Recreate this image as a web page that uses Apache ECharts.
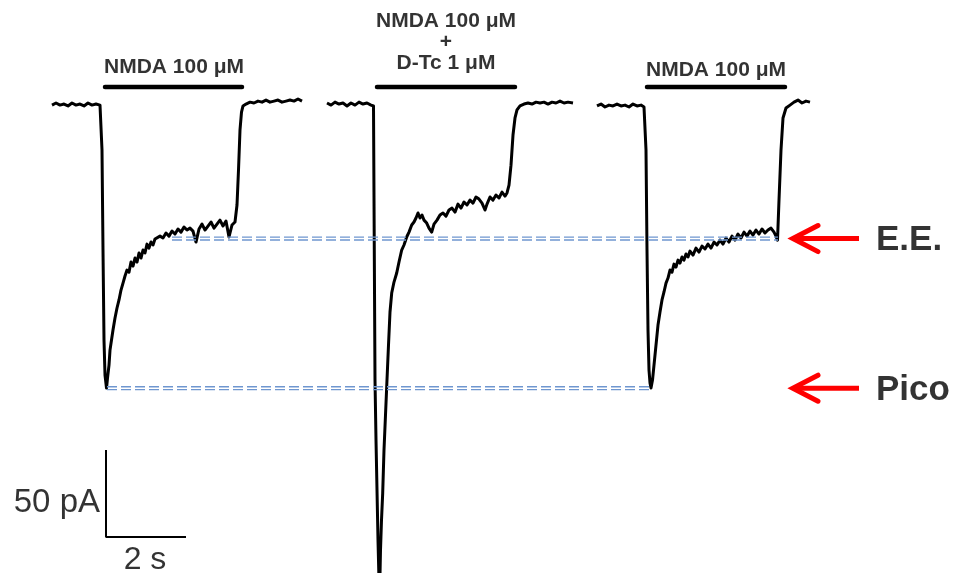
<!DOCTYPE html>
<html>
<head>
<meta charset="utf-8">
<script src="https://cdn.jsdelivr.net/npm/echarts@6/dist/echarts.min.js"></script>
<style>html,body{margin:0;padding:0;background:#fff}#c{width:956px;height:573px}</style>
</head>
<body>
<div id="c"></div>
<script>
// time in seconds, current in pA (inward current negative)
const trace1 = [
  [-1.35,-0.6],[-1.25,0.6],[-1.15,-0.6],[-1.05,0],[-0.95,-1.1],[-0.85,0.6],[-0.75,-0.6],[-0.65,0],[-0.55,-1.1],[-0.45,0.6],[-0.35,-0.6],[-0.25,0],[-0.15,-0.6],[-0.125,0],
  [-0.1,-26.4],[-0.075,-83.9],[-0.05,-135.6],[-0.025,-155.7],[0.0125,-163.2],[0.0375,-157.5],[0.075,-150.0],[0.1,-141.4],[0.1375,-135.6],[0.175,-129.9],[0.225,-123.0],[0.275,-117.2],[0.325,-112.6],[0.375,-106.9],[0.425,-102.9],[0.475,-98.8],[0.525,-95.4],[0.575,-96.6],[0.625,-90.8],[0.675,-93.1],[0.725,-88.5],[0.775,-90.8],[0.825,-85.6],[0.875,-88.5],[0.925,-83.9],[0.975,-85.6],[1.025,-80.5],[1.075,-82.8],[1.125,-79.3],[1.175,-81.0],[1.225,-77.6],[1.275,-78.7],[1.35,-75.9],[1.425,-77.0],[1.5,-74.1],[1.575,-75.9],[1.65,-73.0],[1.725,-74.7],[1.8,-71.8],[1.875,-73.6],[1.95,-70.7],[2.025,-72.4],[2.1,-71.3],[2.175,-73.0],[2.25,-79.3],[2.325,-71.8],[2.4,-69.0],[2.475,-72.4],[2.55,-70.1],[2.625,-67.8],[2.7,-71.3],[2.775,-69.0],[2.85,-66.7],[2.925,-70.1],[3.0,-67.2],[3.075,-76.4],[3.15,-69.5],[3.225,-67.8],
  [3.275,-58.0],[3.3125,-37.9],[3.35,-14.9],[3.3875,-4.6],[3.425,-1.1],[3.5,0],[3.6,1.1],[3.7,0.6],[3.8,1.7],[3.9,1.1],[4.0,2.3],[4.1,1.1],[4.2,1.7],[4.3,2.3],[4.4,1.1],[4.5,1.7],[4.6,2.3],[4.7,1.7],[4.8,2.9],[4.9,1.7]
];
const trace2 = [
  [5.525,0.6],[5.625,-0.6],[5.725,1.1],[5.825,0],[5.925,0.6],[6.025,-1.1],[6.125,0.6],[6.225,-0.6],[6.325,1.1],[6.425,0],[6.525,0.6],[6.625,-0.6],[6.6875,-1.1],
  [6.725,-158.6],[6.75,-193.1],[6.775,-221.8],[6.8,-250.6],[6.8375,-285.0],[6.8625,-256.3],[6.8875,-239.1],[6.9175,-223.6],[6.95,-198.8],[6.9875,-178.7],[7.0175,-162.6],[7.0625,-138.5],[7.1,-119.5],[7.1425,-108.6],[7.2,-102.3],[7.2675,-97.1],[7.325,-90.8],[7.3925,-83.9],[7.45,-81.0],[7.5175,-76.4],[7.575,-73.6],[7.6425,-69.5],[7.7,-67.8],[7.75,-65.5],[7.8,-62.6],[7.85,-65.5],[7.9,-63.8],[7.95,-66.7],[8.0175,-68.4],[8.075,-71.3],[8.1425,-73.6],[8.2,-69.0],[8.275,-66.7],[8.35,-63.8],[8.425,-62.6],[8.5,-64.4],[8.575,-60.9],[8.65,-59.8],[8.725,-62.1],[8.8,-57.5],[8.875,-59.8],[8.95,-56.3],[9.025,-58.0],[9.1,-55.2],[9.175,-56.9],[9.25,-53.4],[9.325,-54.6],[9.4,-56.9],[9.475,-60.9],[9.525,-57.5],[9.6,-53.4],[9.675,-55.2],[9.75,-52.3],[9.825,-54.0],[9.9,-50.6],[9.975,-52.9],[10.025,-51.1],
  [10.075,-46.6],[10.125,-35.1],[10.175,-17.8],[10.225,-8.0],[10.275,-3.4],[10.35,-1.1],[10.45,0],[10.55,0.6],[10.65,0],[10.75,1.1],[10.85,0.6],[10.95,1.1],[11.05,0],[11.15,1.1],[11.25,0.6],[11.35,1.7],[11.45,0.6],[11.55,1.1],[11.675,0.6]
];
const trace3 = [
  [12.275,-1.1],[12.375,0],[12.475,-1.7],[12.575,-0.6],[12.675,-1.1],[12.775,0],[12.875,-1.1],[12.975,-0.6],[13.075,-1.7],[13.175,0],[13.275,-1.1],[13.375,-0.6],[13.45,-1.7],[13.4875,-2.3],
  [13.5,-26.4],[13.525,-83.9],[13.55,-129.9],[13.575,-152.9],[13.6,-160.3],[13.625,-163.2],[13.6625,-158.6],[13.7,-150.0],[13.75,-138.5],[13.8,-127.0],[13.85,-119.5],[13.9,-112.6],[13.95,-108.0],[14.0,-102.9],[14.05,-100.0],[14.1,-95.4],[14.15,-96.6],[14.2,-92.0],[14.25,-93.7],[14.3,-89.7],[14.35,-91.4],[14.4,-87.9],[14.45,-89.7],[14.5,-86.2],[14.55,-87.9],[14.6,-84.5],[14.675,-86.8],[14.75,-82.8],[14.825,-85.1],[14.9,-81.6],[14.975,-83.3],[15.05,-80.5],[15.125,-82.8],[15.2,-79.3],[15.275,-81.0],[15.35,-78.2],[15.425,-80.5],[15.5,-77.0],[15.575,-79.3],[15.65,-75.9],[15.725,-78.2],[15.8,-74.7],[15.875,-77.0],[15.95,-73.6],[16.025,-75.9],[16.1,-73.0],[16.175,-75.3],[16.25,-72.4],[16.325,-74.7],[16.4,-71.8],[16.475,-74.1],[16.55,-72.4],[16.625,-71.3],[16.7,-73.6],[16.75,-75.9],[16.7875,-78.2],
  [16.825,-55.2],[16.875,-26.4],[16.925,-8.0],[17.0,-2.3],[17.1,-0.6],[17.2,1.1],[17.3,2.3],[17.4,0.6],[17.5,1.7],[17.6,1.1]
];

// NMDA application bars (s) and their labels
const barStarts = [-0.025, 6.775, 13.525];
const barEnds   = [3.4, 10.225, 16.975];
const barLevel  = 9.8;
const barLabels = ['NMDA 100 μM', 'NMDA 100 μM\n+\nD-Tc 1 μM', 'NMDA 100 μM'];
const barLabelPos = [[1.7, 21.0], [8.5, 35.3], [15.25, 19.3]];

// reference levels: steady state (E.E.) and peak (Pico)
const levelNames = ['E.E.', 'Pico'];
const levelValues = [-77.3, -163.3];
const levelStarts = [1.65, 0.025];
const levelEnds = [16.8, 13.625];

// scale bar: 50 pA, 2 s
const scaleOrigin = [0, -248.8];
const scaleAmp = 50;
const scaleTime = 2;

const chart = echarts.init(document.getElementById('c'), null, {renderer: 'canvas'});
const series = [];
const black = '#000';
[trace1, trace2, trace3].forEach(d => series.push({
  type: 'line', data: d, symbol: 'none', clip: true, animation: false,
  lineStyle: {color: black, width: 3, join: 'round'}, z: 3
}));
barStarts.forEach((s, i) => series.push({
  type: 'line', data: [[s, barLevel], [barEnds[i], barLevel]], symbol: 'none', animation: false,
  lineStyle: {color: black, width: 4.5, cap: 'round'}
}));
levelValues.forEach((v, i) => {
  [0.8, -0.8].forEach(off => series.push({
    type: 'line', data: [[levelStarts[i], v + off], [levelEnds[i], v + off]], symbol: 'none', animation: false,
    lineStyle: {color: '#6f96cf', width: 1.4, type: [10, 4]}, z: 4
  }));
  // red arrows
  const tip = 17.2, tail = 18.825, wingT = 17.8, wingH = 7.5;
  series.push({type: 'line', data: [[tip, v], [tail, v]], symbol: 'none', animation: false,
    lineStyle: {color: '#ff0000', width: 5, cap: 'butt'}});
  series.push({type: 'line', data: [[wingT, v + wingH], [tip - 0.03, v], [wingT, v - wingH]], symbol: 'none', animation: false,
    lineStyle: {color: '#ff0000', width: 5, cap: 'round', join: 'miter'}});
});
// scale bar
series.push({type: 'line', animation: false, symbol: 'none',
  data: [[scaleOrigin[0], scaleOrigin[1] + scaleAmp], scaleOrigin, [scaleOrigin[0] + scaleTime, scaleOrigin[1]]],
  lineStyle: {color: black, width: 2}});

// text labels
const font = 'Liberation Sans, Arial, sans-serif';
const texts = [];
barLabels.forEach((t, i) => texts.push({value: barLabelPos[i], label: {formatter: t, position: 'inside', align: 'center', verticalAlign: 'middle', fontSize: 21, fontWeight: 'bold', lineHeight: 21, color: black, fontFamily: font}}));
levelNames.forEach((t, i) => texts.push({value: [19.25, levelValues[i] - 1], label: {formatter: t, position: 'right', distance: 0, fontSize: 35, fontWeight: 'bold', color: black, fontFamily: font}}));
texts.push({value: [-0.15, scaleOrigin[1] + 19.5], label: {formatter: '50 pA', position: 'left', distance: 0, fontSize: 33, color: black, fontFamily: font}});
texts.push({value: [scaleTime / 2 - 0.025, scaleOrigin[1] - 13.3], label: {formatter: scaleTime + ' s', position: 'inside', align: 'center', verticalAlign: 'middle', fontSize: 32, color: black, fontFamily: font}});
series.push({type: 'scatter', symbolSize: 0, data: texts, animation: false, z: 10,
  label: {show: true, color: black, fontFamily: font}});

chart.setOption({
  animation: false,
  grid: {left: 0, right: 0, top: 0, bottom: 0},
  xAxis: {type: 'value', min: -2.65, max: 21.25, show: false},
  yAxis: {type: 'value', min: -269.5, max: 59.8, show: false},
  series: series
});
</script>
</body>
</html>
